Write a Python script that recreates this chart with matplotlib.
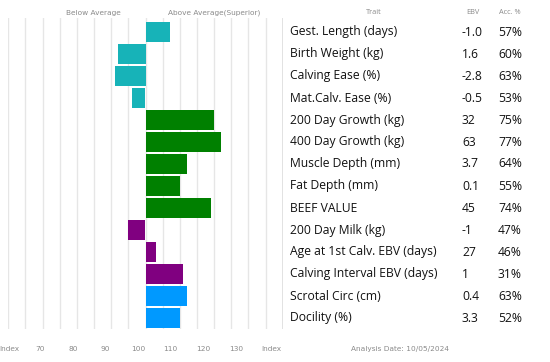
import matplotlib
matplotlib.use("Agg")
import matplotlib.pyplot as plt

traits = ["Gest. Length (days)", "Birth Weight (kg)", "Calving Ease (%)", "Mat.Calv. Ease (%)",
          "200 Day Growth (kg)", "400 Day Growth (kg)", "Muscle Depth (mm)", "Fat Depth (mm)",
          "BEEF VALUE", "200 Day Milk (kg)", "Age at 1st Calv. EBV (days)",
          "Calving Interval EBV (days)", "Scrotal Circ (cm)", "Docility (%)"]
ebv = ["-1.0", "1.6", "-2.8", "-0.5", "32", "63", "3.7", "0.1", "45", "-1", "27", "1", "0.4", "3.3"]
acc = ["57%", "60%", "63%", "53%", "75%", "77%", "64%", "55%", "74%", "47%", "46%", "31%", "63%", "52%"]
index = [107, 92, 91, 96, 120, 122, 112, 110, 119, 95, 103, 111, 112, 110]
groups = ["calving"] * 4 + ["growth"] * 5 + ["maternal"] * 3 + ["other"] * 2
tick_labels = ["Index", "70", "80", "90", "100", "110", "120", "130", "Index"]

colours = {"calving": "#17b3b8", "growth": "#008000", "maternal": "#800080", "other": "#0099ff"}
W, H = 550, 362

fig = plt.figure(figsize=(W / 100, H / 100), dpi=100)
fig.patch.set_facecolor("white")

# bar area in pixels: x 8.3..282.7 (index 60..140), y 18..329
x0, x1, y0, y1 = 8.3, 282.7, 18, 329
ax = fig.add_axes([x0 / W, 1 - y1 / H, (x1 - x0) / W, (y1 - y0) / H])
n = len(traits)
ypos = list(range(n))
lefts = [min(v, 100) for v in index]
widths = [abs(v - 100) for v in index]
ax.barh(ypos, widths, left=lefts, height=0.9,
        color=[colours[g] for g in groups], zorder=3)
ax.set_xlim(60, 140)
ax.set_ylim((y1 - 32) / 22, (y0 - 32) / 22)
ax.set_xticks(range(60, 145, 5))
ax.grid(axis="x", color="#e6e6e6", linewidth=1, zorder=0)
ax.tick_params(left=False, bottom=False, labelleft=False, labelbottom=False)
for s in ax.spines.values():
    s.set_visible(False)
ax.axvline(140, color="#dddddd", linewidth=1.2, zorder=1)

grey = "#8a8a8a"
font = "Open Sans"


def px(x, y):
    return x / W, 1 - y / H


fig.text(*px(93, 13), "Below Average", ha="center", va="center", fontsize=5.3, color=grey, family="DejaVu Sans")
fig.text(*px(214, 13), "Above Average(Superior)", ha="center", va="center", fontsize=5.3, color=grey, family="DejaVu Sans")
fig.text(*px(374, 12), "Trait", ha="center", va="center", fontsize=5.3, color=grey, family=font)
fig.text(*px(473, 12), "EBV", ha="center", va="center", fontsize=5.3, color=grey, family=font)
fig.text(*px(510, 12), "Acc. %", ha="center", va="center", fontsize=5.3, color=grey, family=font)

for i in range(n):
    yc = 32 + 22 * i
    fig.text(*px(290, yc), traits[i], ha="left", va="center", fontsize=8.7, color="#111111", family=font)
    fig.text(*px(462, yc), ebv[i], ha="left", va="center", fontsize=8.7, color="#111111", family=font)
    fig.text(*px(498, yc), acc[i], ha="left", va="center", fontsize=8.7, color="#111111", family=font)

tick_x = [9, 40, 73, 105, 138, 170, 203, 236, 271]
for x, lab in zip(tick_x, tick_labels):
    fig.text(*px(x, 349), lab, ha="center", va="center", fontsize=5.3, color=grey, family="DejaVu Sans")
fig.text(*px(400, 349), "Analysis Date: 10/05/2024", ha="center", va="center", fontsize=5.3, color=grey, family="DejaVu Sans")

fig.savefig("out.png", dpi=100, facecolor="white")
